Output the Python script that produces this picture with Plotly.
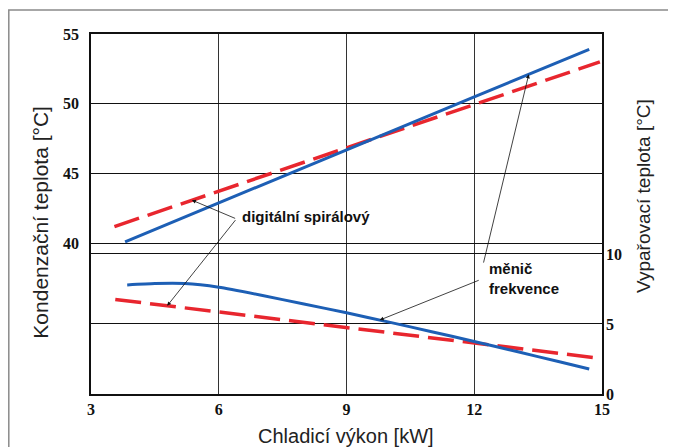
import numpy as np
import plotly.graph_objects as go

# Condensing temperature (left axis)
cond_blue_x = [3.8, 6, 9, 12, 14.7]
cond_blue_y = [40.1, 42.9, 46.7, 50.5, 53.9]
cond_red_x = [3.55, 6, 9, 12, 14.95]
cond_red_y = [41.2, 43.75, 46.85, 49.95, 53.0]

# Evaporating temperature (right axis)
evap_blue_x = [3.85, 4.5, 5.2, 6, 7, 8, 9, 10, 11, 12, 13, 14, 14.7]
evap_blue_y = [7.78, 7.88, 7.88, 7.62, 7.05, 6.42, 5.8, 5.13, 4.45, 3.75, 3.03, 2.3, 1.79]
evap_red_x = [3.57, 6, 9, 12, 14.95]
evap_red_y = [6.75, 5.85, 4.75, 3.64, 2.55]

x_ticks = [3, 6, 9, 12, 15]
left_ticks = [40, 45, 50, 55]
right_ticks = [0, 5, 10]

BLUE = "#1d5fb5"
RED = "#e8262e"

fig = go.Figure()
fig.add_trace(go.Scatter(x=cond_red_x, y=cond_red_y, mode="lines",
                         line=dict(color=RED, width=3.5, dash="26px,9px"), yaxis="y"))
fig.add_trace(go.Scatter(x=cond_blue_x, y=cond_blue_y, mode="lines",
                         line=dict(color=BLUE, width=3), yaxis="y"))
fig.add_trace(go.Scatter(x=evap_red_x, y=evap_red_y, mode="lines",
                         line=dict(color=RED, width=3.5, dash="26px,9px"), yaxis="y2"))
fig.add_trace(go.Scatter(x=evap_blue_x, y=evap_blue_y, mode="lines",
                         line=dict(color=BLUE, width=3, shape="spline", smoothing=0.6), yaxis="y2"))

tick_font = dict(family="Liberation Serif", size=16, color="#111", weight="bold")
title_font = "Liberation Sans"

# page body has an 8px margin: figure is sized so it fills the window exactly
W, H = 668, 439
L, R, T, B = 83, 74, 26, 53
PW, PH = W - L - R, H - T - B

fig.update_layout(
    width=W, height=H,
    margin=dict(l=L, r=R, t=T, b=B),
    paper_bgcolor="white", plot_bgcolor="white",
    showlegend=False,
    xaxis=dict(range=[3, 15], tickvals=x_ticks, tickfont=tick_font,
               showgrid=True, gridcolor="#333", gridwidth=1,
               showline=True, linecolor="#111", linewidth=1.5, mirror=True,
               zeroline=False, ticks="", ticklabelstandoff=0),
    yaxis=dict(range=[29.2, 55], tickvals=left_ticks, tickfont=tick_font,
               showgrid=True, gridcolor="#111", gridwidth=1,
               showline=True, linecolor="#111", linewidth=1.5, mirror=True,
               zeroline=False, ticks="", ticklabelstandoff=7),
    yaxis2=dict(range=[0, 25.7], tickvals=right_ticks, tickfont=tick_font,
                overlaying="y", side="right",
                showgrid=True, gridcolor="#111", gridwidth=1,
                showline=False, zeroline=False, ticks="", ticklabelstandoff=3),
)

# Outer gray frame
fig.add_shape(type="rect", xref="paper", yref="paper",
              x0=(0.8 - L) / PW, x1=1.3, y0=-0.3, y1=(PH + T - 2) / PH,
              line=dict(color="#8a8a8a", width=1.5), fillcolor="rgba(0,0,0,0)", layer="below")

# Axis titles
fig.add_annotation(text="Chladicí výkon [kW]", xref="paper", yref="paper",
                   x=0.4986, y=-0.116, xanchor="center", yanchor="middle", showarrow=False,
                   font=dict(family=title_font, size=20, color="#222"))
fig.add_annotation(text="Kondenzační teplota [°C]", xref="paper", yref="paper",
                   x=-0.0984, y=0.478, xanchor="center", yanchor="middle",
                   textangle=-90, showarrow=False,
                   font=dict(family=title_font, size=21, color="#222"))
fig.add_annotation(text="Vypařovací teplota [°C]", xref="paper", yref="paper",
                   x=1.081, y=0.551, xanchor="center", yanchor="middle",
                   textangle=-90, showarrow=False,
                   font=dict(family=title_font, size=19, color="#222"))

# Callout texts
lab_font = dict(family="Liberation Sans", size=15, color="#111")
fig.add_annotation(text="<b>digitální spirálový</b>", x=8.06, y=41.9, xref="x", yref="y",
                   xanchor="center", yanchor="middle", showarrow=False, font=lab_font)
fig.add_annotation(text="<b>měnič<br>frekvence</b>", x=12.3, y=8.24, xref="x", yref="y2",
                   showarrow=False, xanchor="left", yanchor="middle", align="left", font=lab_font)

# Arrows (heads placed on the series)
def arrow(hx, hy, tx, ty, yref):
    fig.add_annotation(text="", x=hx, y=hy, ax=tx, ay=ty, xref="x", yref=yref,
                       axref="x", ayref=yref, showarrow=True, arrowhead=2,
                       arrowsize=1, arrowwidth=0.8, arrowcolor="#111")

arrow(5.37, float(np.interp(5.37, cond_red_x, cond_red_y)), 6.42, 41.74, "y")
arrow(4.79, float(np.interp(4.79, evap_red_x, evap_red_y)), 6.42, 12.52, "y2")
arrow(13.28, float(np.interp(13.28, cond_blue_x, cond_blue_y)), 12.21, 38.51, "y")
arrow(9.78, float(np.interp(9.78, evap_blue_x, evap_blue_y)), 12.14, 8.16, "y2")

fig.write_html("out.html")
